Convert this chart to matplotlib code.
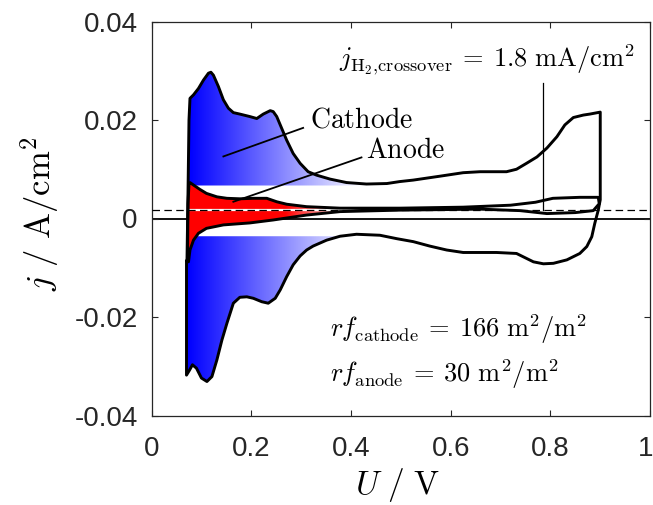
import numpy as np
import matplotlib
matplotlib.use('Agg')
import matplotlib.pyplot as plt
import matplotlib.transforms as mtransforms
from matplotlib.patches import Polygon

plt.rcParams['mathtext.fontset'] = 'cm'
plt.rcParams['font.family'] = ['Liberation Sans', 'DejaVu Sans']
plt.rcParams['axes.unicode_minus'] = False

# ---------------- data ----------------
# cathode CV, forward (anodic) sweep
cathode_fwd_U = [0.071, 0.073, 0.075, 0.077, 0.084, 0.094, 0.104, 0.114, 0.119, 0.124,
                 0.134, 0.144, 0.154, 0.164, 0.177, 0.197, 0.211, 0.224, 0.238, 0.244,
                 0.251, 0.261, 0.271, 0.284, 0.298, 0.314, 0.331, 0.358, 0.391, 0.431,
                 0.472, 0.498, 0.525, 0.579, 0.625, 0.659, 0.712, 0.732, 0.752, 0.773,
                 0.793, 0.813, 0.829, 0.846, 0.866, 0.879, 0.900]
cathode_fwd_j = [-0.0085, 0.0050, 0.0200, 0.0244, 0.0251, 0.0264, 0.0281, 0.0295, 0.0297, 0.0291,
                 0.0268, 0.0241, 0.0224, 0.0215, 0.0212, 0.0207, 0.0203, 0.0212, 0.0219, 0.0217,
                 0.0207, 0.0183, 0.0159, 0.0132, 0.0112, 0.0095, 0.0088, 0.0080, 0.0073, 0.0070,
                 0.0071, 0.0075, 0.0078, 0.0086, 0.0093, 0.0095, 0.0095, 0.0100, 0.0112, 0.0125,
                 0.0143, 0.0166, 0.0190, 0.0205, 0.0210, 0.0212, 0.0216]
# cathode CV, reverse (cathodic) sweep
cathode_rev_U = [0.900, 0.896, 0.889, 0.883, 0.873, 0.859, 0.833, 0.806, 0.786, 0.766,
                 0.746, 0.732, 0.692, 0.625, 0.592, 0.558, 0.525, 0.492, 0.458, 0.411,
                 0.378, 0.351, 0.324, 0.311, 0.298, 0.284, 0.271, 0.258, 0.248, 0.234,
                 0.221, 0.204, 0.191, 0.177, 0.164, 0.151, 0.141, 0.131, 0.121, 0.111,
                 0.100, 0.090, 0.082, 0.076, 0.070, 0.070]
cathode_rev_j = [0.0038, 0.0017, -0.0010, -0.0037, -0.0057, -0.0071, -0.0084, -0.0091, -0.0092, -0.0088,
                 -0.0078, -0.0071, -0.0069, -0.0069, -0.0064, -0.0056, -0.0047, -0.0041, -0.0034, -0.0032,
                 -0.0036, -0.0044, -0.0056, -0.0064, -0.0076, -0.0094, -0.0118, -0.0145, -0.0162, -0.0172,
                 -0.0169, -0.0162, -0.0159, -0.0160, -0.0172, -0.0213, -0.0247, -0.0287, -0.0321, -0.0331,
                 -0.0324, -0.0304, -0.0297, -0.0308, -0.0318, -0.0088]

# anode CV, forward sweep
anode_fwd_U = [0.072, 0.073, 0.075, 0.077, 0.084, 0.097, 0.110, 0.131, 0.151, 0.177,
               0.204, 0.231, 0.251, 0.271, 0.311, 0.378, 0.458, 0.498, 0.625, 0.720,
               0.770, 0.805, 0.859, 0.896, 0.898]
anode_fwd_j = [-0.0086, 0.0030, 0.0070, 0.0073, 0.0068, 0.0059, 0.0051, 0.0044, 0.0041, 0.0040,
               0.0041, 0.0041, 0.0034, 0.0029, 0.0024, 0.0021, 0.0021, 0.0021, 0.0023, 0.0027,
               0.0033, 0.0041, 0.0043, 0.0043, 0.0030]
# anode CV, reverse sweep
anode_rev_U = [0.886, 0.850, 0.793, 0.739, 0.659, 0.498, 0.458, 0.378, 0.311, 0.244,
               0.197, 0.144, 0.110, 0.094, 0.084, 0.077, 0.074, 0.072]
anode_rev_j = [0.0016, 0.0012, 0.0010, 0.0016, 0.0019, 0.0017, 0.0016, 0.0014, 0.0007, -0.0003,
               -0.0009, -0.0013, -0.0020, -0.0030, -0.0044, -0.0064, -0.0088, -0.0086]

j_crossover = 0.0018          # A/cm2  (1.8 mA/cm2)
cathode_base_upper = 0.0067   # baseline of the shaded (H-desorption) area
cathode_base_lower = -0.0036  # baseline of the shaded (H-adsorption) area
U_crossover_marker = 0.786

x_ticks = [0, 0.2, 0.4, 0.6, 0.8, 1]
x_tick_labels = ['0', '0.2', '0.4', '0.6', '0.8', '1']
y_ticks = [-0.04, -0.02, 0, 0.02, 0.04]
y_tick_labels = ['-0.04', '-0.02', '0', '0.02', '0.04']

# ---------------- figure ----------------
fig = plt.figure(figsize=(6.53, 5.05), dpi=100)
ax = fig.add_axes([151.6 / 653, (505 - 415.5) / 505, 498.5 / 653, 394 / 505])

FILL_END = 0.46


def gradient_fill(verts, rgb, x0, x_solid, x1, zorder):
    poly = Polygon(verts, closed=True, facecolor='none', edgecolor='none')
    ax.add_patch(poly)
    xs = np.linspace(x0, x1, 400)
    alpha = np.clip((x1 - xs) / (x1 - x_solid), 0, 1)
    img = np.zeros((2, xs.size, 4))
    img[..., 0], img[..., 1], img[..., 2] = rgb
    img[..., 3] = alpha
    ys = [v[1] for v in verts]
    im = ax.imshow(img, extent=[x0, x1, min(ys), max(ys)], origin='lower',
                   aspect='auto', interpolation='bilinear', zorder=zorder)
    im.set_clip_path(poly)


# upper blue area
cf_U = np.array(cathode_fwd_U); cf_j = np.array(cathode_fwd_j)
m = (cf_U <= FILL_END) & (np.arange(cf_U.size) > 0)
up_verts = list(zip(cf_U[m], np.maximum(cf_j[m], cathode_base_upper)))
up_verts += [(cf_U[m][-1], cathode_base_upper), (cf_U[m][0], cathode_base_upper)]
gradient_fill(up_verts, (0, 0, 1), cf_U[m][0], cf_U[m][0] + 0.005, 0.43, 1)

# lower blue area
cr_U = np.array(cathode_rev_U); cr_j = np.array(cathode_rev_j)
m2 = (cr_U <= FILL_END)
lo_verts = list(zip(cr_U[m2], np.minimum(cr_j[m2], cathode_base_lower)))
lo_verts += [(cr_U[m2][-1], cathode_base_lower), (cr_U[m2][0], cathode_base_lower)]
gradient_fill(lo_verts, (0, 0, 1), 0.070, 0.075, 0.43, 1)

# zero line
ax.axhline(0, color='black', lw=1.3, zorder=1.5)

# red area (anode)
an_verts = list(zip(anode_fwd_U, anode_fwd_j)) + list(zip(anode_rev_U, anode_rev_j))
gradient_fill(an_verts, (1, 0, 0), 0.072, 0.27, 0.40, 2)
ax.plot([anode_fwd_U[0], 0.40], [j_crossover, j_crossover], color='white', lw=1.6, zorder=2.5)

# crossover dashed line
ax.axhline(j_crossover, color='black', lw=0.9, linestyle=(0, (6, 3.5)), zorder=3)

# CV loops
ax.plot(cathode_fwd_U + cathode_rev_U + cathode_fwd_U[:1],
        cathode_fwd_j + cathode_rev_j + cathode_fwd_j[:1],
        color='black', lw=2.1, zorder=4, solid_joinstyle='round')
ax.plot(anode_fwd_U + anode_rev_U + anode_fwd_U[:1],
        anode_fwd_j + anode_rev_j + anode_fwd_j[:1],
        color='black', lw=2.1, zorder=4, solid_joinstyle='round')

# annotations
ax.plot([0.304, 0.144], [0.0184, 0.0126], color='black', lw=1.3, zorder=5)
ax.text(0.318, 0.0184, r'$\mathrm{Cathode}$', fontsize=20, ha='left', va='baseline', zorder=6)
ax.plot([0.421, 0.164], [0.0124, 0.0034], color='black', lw=1.3, zorder=5)
ax.text(0.430, 0.0122, r'$\mathrm{Anode}$', fontsize=20, ha='left', va='baseline', zorder=6)

ax.plot([U_crossover_marker, U_crossover_marker], [0.0275, j_crossover], color='black', lw=0.9, zorder=5)
ax.text(0.376, 0.0308, r'$j_{\mathrm{H_2}{,}\mathrm{crossover}}\:=\:1.8\ \mathrm{mA/cm^2}$',
        fontsize=19, ha='left', va='baseline', zorder=6)

ax.text(0.358, -0.0240, r'$rf_{\mathrm{cathode}}\:=\:166\ \mathrm{m^2/m^2}$',
        fontsize=19, ha='left', va='baseline', zorder=6)
ax.text(0.358, -0.0331, r'$rf_{\mathrm{anode}}\:=\:30\ \mathrm{m^2/m^2}$',
        fontsize=19, ha='left', va='baseline', zorder=6)

# axes styling
ax.set_xlim(0, 1)
ax.set_ylim(-0.04, 0.04)
ax.set_xticks(x_ticks)
ax.set_xticklabels(x_tick_labels)
ax.set_yticks(y_ticks)
ax.set_yticklabels(y_tick_labels)
ax.tick_params(direction='in', top=True, right=True, length=4, width=0.8,
               colors='#262626', labelsize=20)
ax.tick_params(axis='x', pad=15)
ax.tick_params(axis='y', pad=10)
for s in ax.spines.values():
    s.set_color('#262626')
    s.set_linewidth(0.9)

last = ax.get_xticklabels()[-1]
last.set_transform(last.get_transform() + mtransforms.ScaledTranslation(-4 / 100, 0, fig.dpi_scale_trans))

ax.set_xlabel(r'$U\ /\ \mathrm{V}$', fontsize=24)
ax.xaxis.set_label_coords((397.6 - 151.6) / 498.5, (415.5 - 494) / 394)
ax.xaxis.label.set_va('baseline')
ax.set_ylabel(r'$j\ /\ \mathrm{A/cm^2}$', fontsize=25)
ax.yaxis.set_label_coords((40 - 151.6) / 498.5, (415.5 - 214) / 394)
ax.yaxis.label.set_va('center')

fig.savefig('out.png', dpi=100)
